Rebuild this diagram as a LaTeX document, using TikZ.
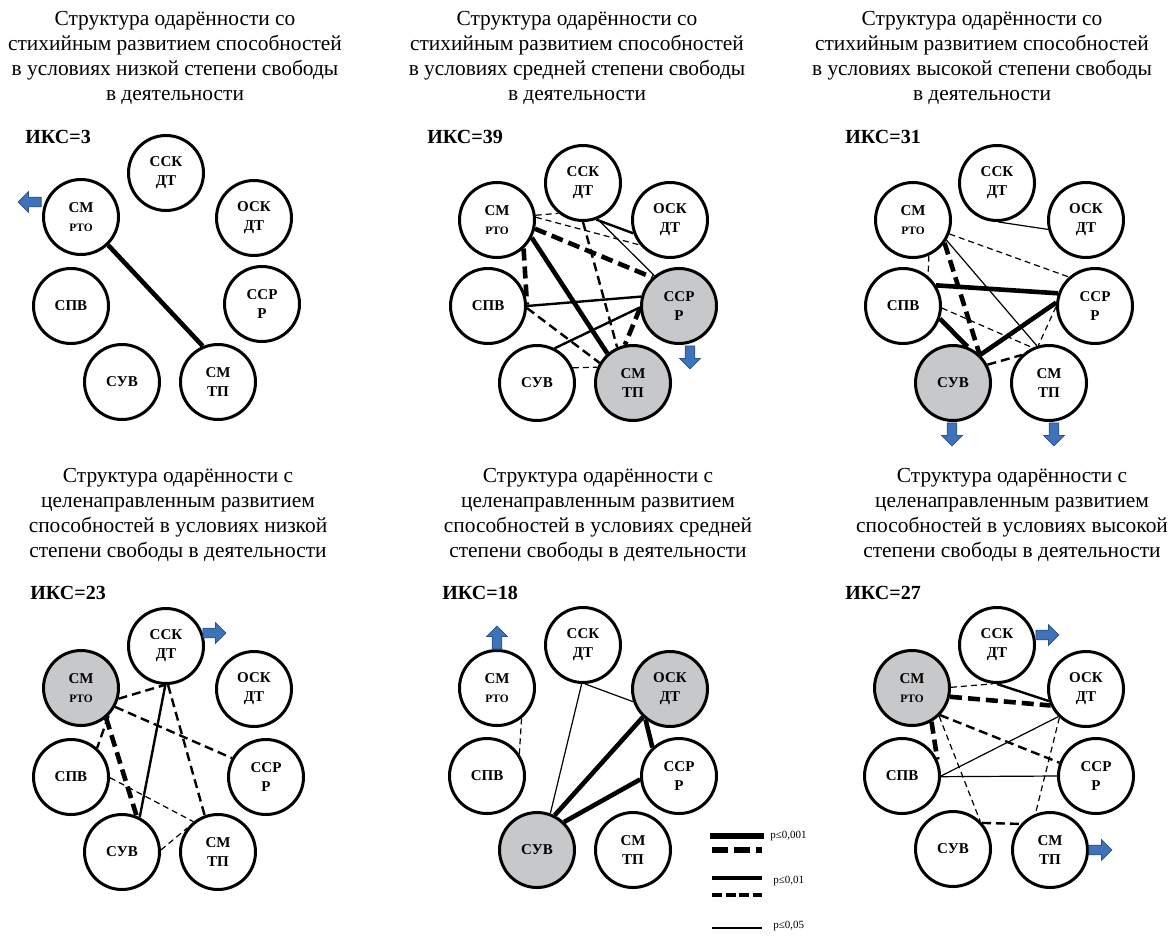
\documentclass[tikz,border=0pt]{standalone}
\usepackage{fontspec}
\setmainfont{Liberation Serif}
\usetikzlibrary{shapes.arrows}
\definecolor{nodegray}{RGB}{199,200,202}
\definecolor{arrowblue}{RGB}{62,115,185}
\definecolor{arrowedge}{RGB}{40,80,140}
\newcommand\smallrto{{\fontsize{5.7}{9.5}\selectfont РТО}}
\tikzset{
  gnode/.style={circle, draw, line width=1.5pt, minimum size=37.5pt, inner sep=0pt,
                align=center, font=\fontsize{7.5}{9.5}\selectfont\bfseries},
  gfill/.style={gnode, fill=nodegray},
  ttl/.style={align=center, font=\fontsize{10.7}{12.5}\selectfont, inner sep=0pt},
  iks/.style={anchor=west, font=\fontsize{10}{12}\selectfont\bfseries, inner sep=0pt},
  barrow/.style={single arrow, draw=arrowedge, fill=arrowblue, line width=0.4pt,
                 minimum height=11.5pt, single arrow head extend=2.8pt,
                 inner xsep=0pt, inner ysep=2.2pt},
  lbl/.style={anchor=west, font=\fontsize{5.5}{6}\selectfont, inner sep=0pt},
  p001/.style={line width=2.3pt},
  p001d/.style={line width=2.3pt, dash pattern=on 6pt off 3pt},
  p01/.style={line width=1.2pt},
  p01d/.style={line width=1.2pt, dash pattern=on 4.5pt off 2.5pt},
  p05/.style={line width=0.6pt},
  p05d/.style={line width=0.6pt, dash pattern=on 3pt off 2pt}
}
\begin{document}
\begin{tikzpicture}[x=0.5pt, y=-0.5pt]
  \useasboundingbox (0,0) rectangle (1171,942);

  \draw (175, 58) node [ttl] (t1) {Структура одарённости со\\стихийным развитием способностей\\в условиях низкой степени свободы\\в деятельности}
        ( 25,137) node [iks] (k1) {ИКС=3}
        (166,173) node [gnode] (ssk1) {ССК\\ДТ}
        ( 81,217) node [gnode] (rto1) {СМ\\\smallrto}
        (254,218) node [gnode] (osk1) {ОСК\\ДТ}
        ( 71,306) node [gnode] (spv1) {СПВ}
        (262,304) node [gnode] (ssr1) {ССР\\Р}
        (122,382) node [gnode] (suv1) {СУВ}
        (218,382) node [gnode] (tp1) {СМ\\ТП}
        ( 32,202) node [barrow, rotate=180] (ar1) {}
    (rto1.-46) edge [p001] (tp1.113);

  \draw (577, 58) node [ttl] (t2) {Структура одарённости со\\стихийным развитием способностей\\в условиях средней степени свободы\\в деятельности}
        (427,137) node [iks] (k2) {ИКС=39}
        (583,183) node [gnode] (ssk2) {ССК\\ДТ}
        (497,220) node [gnode] (rto2) {СМ\\\smallrto}
        (670,220) node [gnode] (osk2) {ОСК\\ДТ}
        (488,306) node [gnode] (spv2) {СПВ}
        (679,306) node [gfill] (ssr2) {ССР\\Р}
        (537,383) node [gnode] (suv2) {СУВ}
        (633,383) node [gfill] (tp2) {СМ\\ТП}
        (690,355) node [barrow, rotate=270] (ar2) {}
    (rto2.7)   edge [p05d]  (ssk2.231)
    (rto2.4)   edge [p05d]  (osk2.220)
    (rto2.-13) edge [p001d] (ssr2.133)
    (rto2.-47) edge [p001d] (spv2.2)
    (rto2.-27) edge [p001]  (tp2.131)
    (ssk2.-70) edge [p01]   (osk2.200)
    (ssk2.-68) edge [p05]   (ssr2.129)
    (ssk2.-90) edge [p01d]  (tp2.114)
    (spv2.0)   edge [p01]   (ssr2.166)
    (spv2.-3)  edge [p01d]  (tp2.149)
    (suv2.63)  edge [p01]   (ssr2.182)
    (suv2.23)  edge [p05d]  (tp2.156)
    (ssr2.183) edge [p001d] (tp2.102);

  \draw (982, 58) node [ttl] (t3) {Структура одарённости со\\стихийным развитием способностей\\в условиях высокой степени свободы\\в деятельности}
        (845,137) node [iks] (k3) {ИКС=31}
        (997,183) node [gnode] (ssk3) {ССК\\ДТ}
        (913,220) node [gnode] (rto3) {СМ\\\smallrto}
        (1086,220) node [gnode] (osk3) {ОСК\\ДТ}
        (903,306) node [gnode] (spv3) {СПВ}
        (1095,306) node [gnode] (ssr3) {ССР\\Р}
        (953,383) node [gfill] (suv3) {СУВ}
        (1049,383) node [gnode] (tp3) {СМ\\ТП}
        (952,432) node [barrow, rotate=270] (ar3) {}
        (1054,432) node [barrow, rotate=270] (ar4) {}
    (ssk3.-88) edge [p05]   (osk3.194)
    (rto3.-21) edge [p05d]  (ssr3.132)
    (rto3.-66) edge [p05d]  (spv3.50)
    (rto3.-36) edge [p001d] (suv3.47)
    (rto3.-31) edge [p05]   (tp3.108)
    (spv3.32)  edge [p001]  (ssr3.161)
    (spv3.-19) edge [p001]  (suv3.68)
    (spv3.-3)  edge [p05d]  (tp3.115)
    (suv3.46)  edge [p001]  (ssr3.175)
    (suv3.28)  edge [p01d]  (tp3.134)
    (ssr3.181) edge [p05d]  (tp3.106);

  \draw (178,515) node [ttl] (t4) {Структура одарённости с\\целенаправленным развитием\\способностей в условиях низкой\\степени свободы в деятельности}
        ( 30,593) node [iks] (k4) {ИКС=23}
        (166,646) node [gnode] (ssk4) {ССК\\ДТ}
        ( 81,688) node [gfill] (rto4) {СМ\\\smallrto}
        (254,689) node [gnode] (osk4) {ОСК\\ДТ}
        ( 71,777) node [gnode] (spv4) {СПВ}
        (266,777) node [gnode] (ssr4) {ССР\\Р}
        (122,852) node [gnode] (suv4) {СУВ}
        (218,852) node [gnode] (tp4) {СМ\\ТП}
        (212,633) node [barrow] (ar5) {}
    (rto4.-16) edge [p01d]  (ssk4.-92)
    (rto4.-29) edge [p01d]  (ssr4.151)
    (rto4.-45) edge [p01d]  (spv4.48)
    (rto4.-50) edge [p001d] (suv4.68)
    (ssk4.-91) edge [p01]   (suv4.63)
    (ssk4.-87) edge [p01d]  (tp4.110)
    (spv4.-1)  edge [p05d]  (tp4.129)
    (suv4.3)   edge [p05d]  (tp4.142);

  \draw (598,515) node [ttl] (t5) {Структура одарённости с\\целенаправленным развитием\\способностей в условиях средней\\степени свободы в деятельности}
        (442,593) node [iks] (k5) {ИКС=18}
        (583,645) node [gnode] (ssk5) {ССК\\ДТ}
        (497,688) node [gnode] (rto5) {СМ\\\smallrto}
        (670,689) node [gfill] (osk5) {ОСК\\ДТ}
        (487,776) node [gnode] (spv5) {СПВ}
        (679,776) node [gnode] (ssr5) {ССР\\Р}
        (537,850) node [gfill] (suv5) {СУВ}
        (633,850) node [gnode] (tp5) {СМ\\ТП}
        (497,640) node [barrow, rotate=90] (ar6) {}
    (rto5.-51) edge [p05d] (spv5.34)
    (ssk5.-87) edge [p05]  (osk5.199)
    (ssk5.-92) edge [p05]  (suv5.70)
    (suv5.63)  edge [p001] (osk5.226)
    (osk5.231) edge [p001] (ssr5.133)
    (suv5.46)  edge [p001] (ssr5.185);

  \draw (1012,515) node [ttl] (t6) {Структура одарённости с\\целенаправленным развитием\\способностей в условиях высокой\\степени свободы в деятельности}
        (845,593) node [iks] (k6) {ИКС=27}
        (997,645) node [gnode] (ssk6) {ССК\\ДТ}
        (912,688) node [gfill] (rto6) {СМ\\\smallrto}
        (1086,689) node [gnode] (osk6) {ОСК\\ДТ}
        (902,776) node [gnode] (spv6) {СПВ}
        (1096,776) node [gnode] (ssr6) {ССР\\Р}
        (953,849) node [gnode] (suv6) {СУВ}
        (1050,850) node [gnode] (tp6) {СМ\\ТП}
        (1045,635) node [barrow] (ar7) {}
        (1098,850) node [barrow] (ar8) {}
    (rto6.1)   edge [p05d]  (ssk6.-96)
    (rto6.-13) edge [p001d] (osk6.205)
    (ssk6.-90) edge [p01]   (osk6.198)
    (rto6.-44) edge [p01d]  (ssr6.160)
    (rto6.-60) edge [p001d] (spv6.25)
    (rto6.-46) edge [p05d]  (suv6.46)
    (spv6.0)   edge [p05]   (osk6.225)
    (spv6.-1)  edge [p05]   (ssr6.180)
    (osk6.227) edge [p05d]  (tp6.112)
    (suv6.42)  edge [p01d]  (tp6.138);

  \draw (710,836) coordinate (la1) (764,836) coordinate (lb1)
        (712,850) coordinate (la2) (762,850) coordinate (lb2)
        (712,878) coordinate (la3) (762,878) coordinate (lb3)
        (712,895) coordinate (la4) (762,895) coordinate (lb4)
        (712,928) coordinate (la5) (762,928) coordinate (lb5)
        (770,836) node [lbl] (lt1) {p≤0,001}
        (773,881) node [lbl] (lt2) {p≤0,01}
        (773,926) node [lbl] (lt3) {p≤0,05}
    (la1) edge [p001, line width=3pt] (lb1)
    (la2) edge [p001d, line width=3pt, dash pattern=on 8pt off 3pt] (lb2)
    (la3) edge [p01, line width=1.8pt] (lb3)
    (la4) edge [p01d, line width=1.8pt, dash pattern=on 5pt off 1.8pt] (lb4)
    (la5) edge [p05, line width=0.8pt] (lb5);
\end{tikzpicture}
\end{document}
